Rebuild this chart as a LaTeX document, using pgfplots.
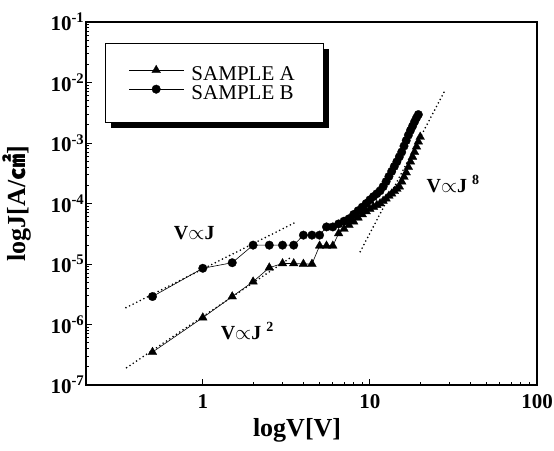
\documentclass[border=0pt]{standalone}
\usepackage{fontspec}
\setmainfont{Liberation Serif}
\newfontfamily\cjk{Noto Sans CJK SC}
\usepackage{pgfplots}
\pgfplotsset{compat=1.18}

% J-V data
\pgfplotstableread{
V J
0.5 3.5e-7
1 1.3e-6
1.5 2.9e-6
2 5.1e-6
2.5 8.7e-6
3 1.02e-5
3.5 1.02e-5
4 1.0e-5
4.5 1.0e-5
5 2.0e-5
5.5 2.0e-5
6 2.0e-5
6.5 3.2e-5
7 3.8e-5
7.5 4.4e-5
8 5.0e-5
8.5 5.8e-5
9 6.6e-5
9.5 7.4e-5
10 8.1e-5
10.5 8.8e-5
11 9.4e-5
11.5 1.0e-4
12 1.1e-4
12.5 1.2e-4
13 1.34e-4
13.5 1.45e-4
14 1.6e-4
14.5 1.74e-4
15 1.9e-4
15.5 2.3e-4
16 2.75e-4
16.5 3.25e-4
17 4.0e-4
17.5 4.9e-4
18 5.9e-4
18.5 7.1e-4
19 8.7e-4
19.5 1.05e-3
20 1.26e-3
}\sampleA

\pgfplotstableread{
V J
0.5 2.9e-6
1 8.5e-6
1.5 1.05e-5
2 2.05e-5
2.5 2.05e-5
3 2.05e-5
3.5 2.05e-5
4 3.0e-5
4.5 3.0e-5
5 3.0e-5
5.5 4.1e-5
6 4.1e-5
6.5 4.6e-5
7 5.1e-5
7.5 5.6e-5
8 6.6e-5
8.5 7.6e-5
9 8.7e-5
9.5 1.0e-4
10 1.15e-4
10.5 1.3e-4
11 1.45e-4
11.5 1.62e-4
12 1.9e-4
12.5 2.3e-4
13 2.8e-4
13.5 3.4e-4
14 4.1e-4
14.5 4.9e-4
15 5.9e-4
15.5 7.1e-4
16 8.9e-4
16.5 1.1e-3
17 1.35e-3
17.5 1.62e-3
18 1.9e-3
18.5 2.24e-3
19 2.6e-3
19.5 2.95e-3
}\sampleB

\begin{document}
\begin{tikzpicture}
\begin{axis}[
    xmode=log, ymode=log,
    scale only axis,
    width=451pt, height=363pt,
    xmin=0.2, xmax=100,
    ymin=1e-7, ymax=1e-1,
    axis line style={line width=1.2pt},
    tick pos=left, tick align=inside,
    major tick length=6pt, minor tick length=3.5pt,
    every tick/.style={black, line width=0.9pt},
    xtick={1,10,100},
    xticklabels={\textbf{1},\textbf{10},\textbf{100}},
    ytick={1e-7,1e-6,1e-5,1e-4,1e-3,1e-2,1e-1},
    yticklabels={%
        \textbf{10}\textsuperscript{\textbf{-7}},%
        \textbf{10}\textsuperscript{\textbf{-6}},%
        \textbf{10}\textsuperscript{\textbf{-5}},%
        \textbf{10}\textsuperscript{\textbf{-4}},%
        \textbf{10}\textsuperscript{\textbf{-3}},%
        \textbf{10}\textsuperscript{\textbf{-2}},%
        \textbf{10}\textsuperscript{\textbf{-1}}},
    tick label style={font=\fontsize{21}{21}\selectfont\bfseries},
    yticklabel style={inner xsep=1.5pt},
    xticklabel style={yshift=-6pt},
    xlabel={logV[V]},
    ylabel={logJ[A/{\cjk ㎠}]},
    label style={font=\fontsize{26}{26}\selectfont\bfseries},
    xlabel style={at={(axis description cs:0.468,-0.124)}, anchor=center},
    ylabel style={at={(axis description cs:-0.153,0.5)}, anchor=center},
    legend style={
        at={(rel axis cs:0.279,0.828)}, anchor=center,
        draw=none, fill=none,
        font=\fontsize{21}{21}\selectfont,
        nodes={inner sep=0pt, text height=15pt, text depth=4pt},
        row sep=0pt, column sep=7pt,
    },
    legend cell align=left,
    legend image code/.code={
        \draw[mark repeat=2, mark phase=2, yshift=5pt]
            plot coordinates {(0pt,0pt) (27pt,0pt) (55pt,0pt)};
    },
]
% legend frame with its solid shadow
\fill[black] ([xshift=5pt,yshift=-5pt]rel axis cs:0.0443,0.9394)
    rectangle ([xshift=5pt,yshift=-5pt]rel axis cs:0.5277,0.7218);
\filldraw[fill=white, draw=black, line width=1pt] (rel axis cs:0.0443,0.9394)
    rectangle (rel axis cs:0.5277,0.7218);

\addplot[black, line width=0.6pt, mark=triangle*, mark size=5pt,
    mark options={solid, line width=0.3pt}] table[x=V, y=J] {\sampleA};
\addlegendentry{SAMPLE A}
\addplot[black, line width=0.6pt, mark=*, mark size=4.3pt,
    mark options={solid, line width=0.3pt}] table[x=V, y=J] {\sampleB};
\addlegendentry{SAMPLE B}

% power-law guide lines
\pgfplotsset{guide/.style={black, line width=1.8pt, line cap=round,
    dash pattern=on 0pt off 4pt, forget plot}}
\addplot[guide] coordinates {(0.347,1.9e-6) (3.65,5.0e-5)};
\addplot[guide] coordinates {(0.35,1.93e-7) (3.33,1.26e-5)};
\addplot[guide] coordinates {(8.75,1.6e-5) (28.2,7.5e-3)};

\node[anchor=west, font=\fontsize{20}{20}\selectfont\bfseries]
    at (axis cs:0.64,3.3e-5) {V$\propto$J};
\node[anchor=west, font=\fontsize{20}{20}\selectfont\bfseries]
    at (axis cs:1.22,7.8e-7) {V$\propto$J \textsuperscript{2}};
\node[anchor=west, font=\fontsize{20}{20}\selectfont\bfseries]
    at (axis cs:20.8,2.1e-4) {V$\propto$J \textsuperscript{8}};
\end{axis}
\pgfresetboundingbox
\path ([xshift=-86pt,yshift=-65pt]current axis.south west)
    rectangle ([xshift=17pt,yshift=22pt]current axis.north east);
\end{tikzpicture}
\end{document}
